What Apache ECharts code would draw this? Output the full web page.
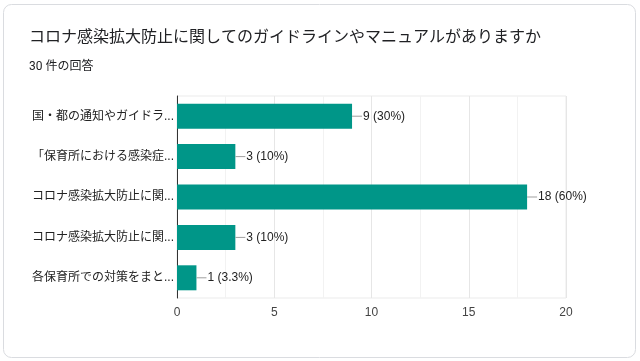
<!DOCTYPE html>
<html><head><meta charset="utf-8">
<script src="https://cdn.jsdelivr.net/npm/echarts@6/dist/echarts.min.js"></script>
<style>html,body{margin:0;padding:0;background:#fff;}#c{width:640px;height:361px;}</style>
</head><body><div id="c"></div>
<script>
const titleText = 'コロナ感染拡大防止に関してのガイドラインやマニュアルがありますか';
const subtitleText = '30 件の回答';
const categories = ['国・都の通知やガイドラ...','「保育所における感染症...','コロナ感染拡大防止に関...','コロナ感染拡大防止に関...','各保育所での対策をまと...'];
const values = [9, 3, 18, 3, 1];
const percentLabels = ['30%', '10%', '60%', '10%', '3.3%'];
const xTicks = [0, 5, 10, 15, 20];

const FONT = '"Liberation Sans", Arial, "Noto Sans CJK JP", sans-serif';
const TFONT = 'Roboto, "Noto Sans CJK JP", sans-serif';
const chart = echarts.init(document.getElementById('c'), null, {renderer:'canvas'});
chart.setOption({
  animation: false,
  backgroundColor: '#fff',
  graphic: [{
    type: 'rect', z: -10, silent: true,
    shape: {x: 3.5, y: 4.5, width: 632, height: 353, r: 8},
    style: {fill: '#fff', stroke: '#dadce0', lineWidth: 1}
  }],
  title: {
    text: titleText, subtext: subtitleText,
    left: 29, top: 30, itemGap: 15, padding: 0,
    textStyle: {fontFamily: TFONT, fontSize: 16, fontWeight: 'normal', color: '#202124'},
    subtextStyle: {fontFamily: TFONT, fontSize: 12, color: '#202124'}
  },
  grid: {left: 177, right: 74, top: 96, bottom: 63, show: true, borderColor: '#ebebeb', borderWidth: 1},
  xAxis: {
    type: 'value', min: xTicks[0], max: xTicks[xTicks.length-1], interval: 5,
    axisLine: {show: false}, axisTick: {show: false},
    axisLabel: {fontFamily: FONT, fontSize: 12, color: '#444', margin: 9},
    splitLine: {lineStyle: {color: '#e6e6e6'}},
    minorTick: {show: false, splitNumber: 2},
    minorSplitLine: {show: true, lineStyle: {color: '#f2f2f2'}}
  },
  yAxis: {
    type: 'category', data: categories, inverse: true,
    axisLine: {show: true, lineStyle: {color: '#333'}},
    axisTick: {show: false},
    axisLabel: {fontFamily: FONT, fontSize: 12, color: '#222', margin: 3}
  },
  series: [{
    type: 'bar', data: values, barWidth: 25,
    itemStyle: {color: '#009688'},
    label: {
      show: true, position: 'right', distance: 0,
      formatter: p => '{l|}{t|' + p.value + ' (' + percentLabels[p.dataIndex] + ')}',
      rich: {
        l: {width: 10, height: 1, backgroundColor: '#9e9e9e'},
        t: {fontFamily: FONT, fontSize: 12, color: '#222', padding: [0,0,0,1]}
      }
    }
  }]
});
</script></body></html>
